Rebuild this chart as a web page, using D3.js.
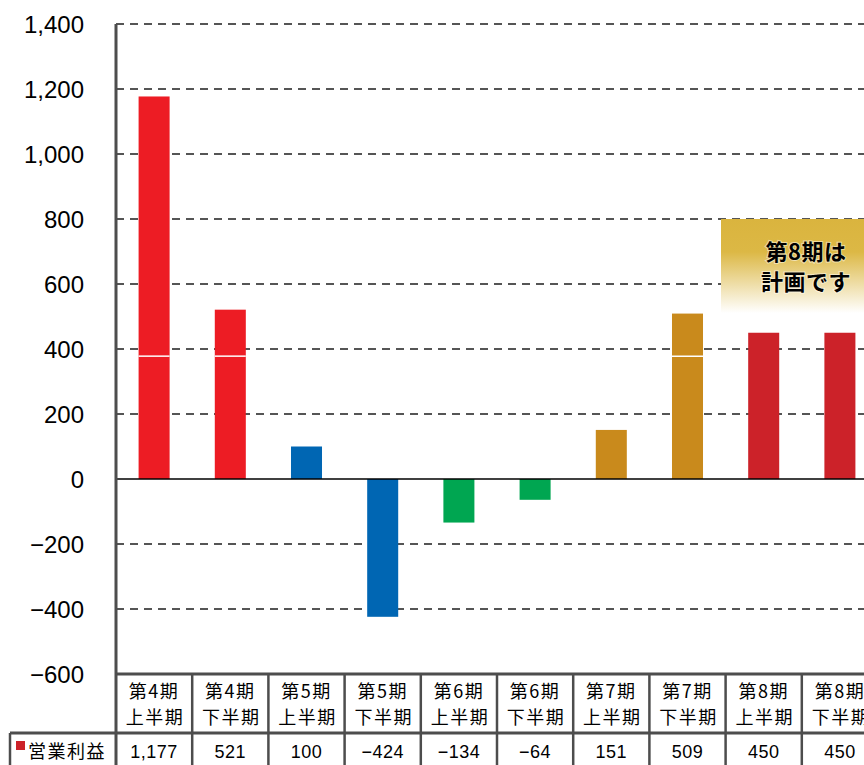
<!DOCTYPE html>
<html>
<head>
<meta charset="utf-8">
<script src="https://cdn.jsdelivr.net/npm/d3@7"></script>
<style>
  body { margin: 0; background: #fff; }
  svg { display: block; }
</style>
</head>
<body>
<div id="chart"></div>
<script>
// data
var periods = ["第4期", "第4期", "第5期", "第5期", "第6期", "第6期", "第7期", "第7期", "第8期", "第8期"];
var halves = ["上半期", "下半期", "上半期", "下半期", "上半期", "下半期", "上半期", "下半期", "上半期", "下半期"];
var profits = [1177, 521, 100, -424, -134, -64, 151, 509, 450, 450];
var profitLabels = ["1,177", "521", "100", "−424", "−134", "−64", "151", "509", "450", "450"];
var barColors = ["#ed1c24", "#ed1c24", "#0066b3", "#0066b3", "#00a651", "#00a651", "#c98a1c", "#c98a1c", "#cc2229", "#cc2229"];
var splitAt = [378, 378, null, null, null, null, null, 378, null, null]; // white seam seen inside some bars
var yTicks = [-600, -400, -200, 0, 200, 400, 600, 800, 1000, 1200, 1400];
var seriesName = "営業利益";
var noteLines = ["第8期は", "計画です"];

var W = 864, H = 765;
var plotLeft = 116, plotTop = 24, axisBottom = 674;
var step = 76.2;

var svg = d3.select("#chart").append("svg")
  .attr("width", W).attr("height", H);

var cats = d3.range(profits.length);

// bars sit in a padded band, table cells use the same band without padding
var x = d3.scaleBand().domain(cats)
  .range([plotLeft, plotLeft + step * cats.length])
  .paddingInner(0.593).paddingOuter(0.2965);
var xCell = d3.scaleBand().domain(cats)
  .range([plotLeft, plotLeft + step * cats.length]);

var y = d3.scaleLinear().domain([-600, 1400]).range([axisBottom, plotTop]);

// gridlines
svg.append("g").selectAll("line")
  .data(yTicks.filter(function (d) { return d !== 0 && d !== -600; }))
  .join("line")
  .attr("x1", plotLeft).attr("x2", W)
  .attr("y1", function (d) { return y(d); })
  .attr("y2", function (d) { return y(d); })
  .attr("stroke", "#555").attr("stroke-width", 2)
  .attr("stroke-dasharray", "8,6");

// y labels
svg.append("g").selectAll("text")
  .data(yTicks).join("text")
  .attr("x", 84)
  .attr("y", function (d) { return y(d); })
  .attr("dy", "0.36em")
  .attr("text-anchor", "end")
  .attr("font-family", "'Liberation Sans', Arial, sans-serif")
  .attr("font-size", 24)
  .attr("fill", "#000")
  .text(function (d) { return d3.format(",")(d).replace("-", "−"); });

// callout box
var defs = svg.append("defs");
var grad = defs.append("linearGradient").attr("id", "noteGrad")
  .attr("x1", 0).attr("y1", 0).attr("x2", 0).attr("y2", 1);
grad.append("stop").attr("offset", "0%").attr("stop-color", "#dab43e");
grad.append("stop").attr("offset", "35%").attr("stop-color", "#dcb845");
grad.append("stop").attr("offset", "100%").attr("stop-color", "#ffffff");

svg.append("rect")
  .attr("x", 721).attr("y", 219)
  .attr("width", W - 721).attr("height", 94)
  .attr("fill", "url(#noteGrad)");

svg.append("g").selectAll("text")
  .data(noteLines).join("text")
  .attr("x", 806)
  .attr("y", function (d, i) { return 252 + i * 30; })
  .attr("dy", "0.36em")
  .attr("text-anchor", "middle")
  .attr("font-family", "'Noto Sans CJK JP', sans-serif")
  .attr("font-weight", "bold")
  .attr("font-size", 22)
  .attr("letter-spacing", 0.5)
  .attr("fill", "#000")
  .attr("stroke", "rgba(255,255,255,0.5)").attr("stroke-width", 2)
  .attr("paint-order", "stroke")
  .text(function (d) { return d; });

// bars
svg.append("g").selectAll("rect")
  .data(profits).join("rect")
  .attr("x", function (d, i) { return x(i); })
  .attr("width", x.bandwidth())
  .attr("y", function (d) { return y(Math.max(0, d)); })
  .attr("height", function (d) { return Math.abs(y(d) - y(0)); })
  .attr("fill", function (d, i) { return barColors[i]; });

svg.append("g").selectAll("line")
  .data(cats.filter(function (i) { return splitAt[i] != null; }))
  .join("line")
  .attr("x1", function (i) { return x(i); })
  .attr("x2", function (i) { return x(i) + x.bandwidth(); })
  .attr("y1", function (i) { return y(splitAt[i]); })
  .attr("y2", function (i) { return y(splitAt[i]); })
  .attr("stroke", "#fff").attr("stroke-width", 1.5);

// zero line
svg.append("line")
  .attr("x1", plotLeft).attr("x2", W)
  .attr("y1", y(0)).attr("y2", y(0))
  .attr("stroke", "#000").attr("stroke-width", 1.5);

// table
var row1 = axisBottom, row2 = 733;
var lineColor = "#4d4d4d";
var tbl = svg.append("g");

tbl.append("line").attr("x1", plotLeft).attr("x2", W)
  .attr("y1", row1).attr("y2", row1)
  .attr("stroke", lineColor).attr("stroke-width", 3);
tbl.append("line").attr("x1", 10).attr("x2", W)
  .attr("y1", row2).attr("y2", row2)
  .attr("stroke", lineColor).attr("stroke-width", 3);
tbl.selectAll(".vline")
  .data(cats.slice(1)).join("line")
  .attr("class", "vline")
  .attr("x1", function (i) { return xCell(i); })
  .attr("x2", function (i) { return xCell(i); })
  .attr("y1", row1).attr("y2", H)
  .attr("stroke", lineColor).attr("stroke-width", 2.5);
tbl.append("line").attr("x1", 10).attr("x2", 10)
  .attr("y1", row2).attr("y2", H)
  .attr("stroke", lineColor).attr("stroke-width", 2.5);

// y axis line
svg.append("line")
  .attr("x1", plotLeft).attr("x2", plotLeft)
  .attr("y1", plotTop).attr("y2", H)
  .attr("stroke", lineColor).attr("stroke-width", 3);

var cjk = "'Noto Sans CJK JP', sans-serif";

tbl.selectAll(".hdr1")
  .data(periods).join("text")
  .attr("class", "hdr1")
  .attr("x", function (d, i) { return xCell(i) + xCell.bandwidth() / 2; })
  .attr("y", 692).attr("dy", "0.36em")
  .attr("text-anchor", "middle")
  .attr("font-family", cjk).attr("font-size", 18)
  .attr("letter-spacing", 1.5)
  .text(function (d) { return d; });

tbl.selectAll(".hdr2")
  .data(halves).join("text")
  .attr("class", "hdr2")
  .attr("x", function (d, i) { return xCell(i) + xCell.bandwidth() / 2 + 1; })
  .attr("y", 718).attr("dy", "0.36em")
  .attr("text-anchor", "middle")
  .attr("font-family", cjk).attr("font-size", 18)
  .attr("letter-spacing", 1.5)
  .text(function (d) { return d; });

tbl.selectAll(".val")
  .data(profitLabels).join("text")
  .attr("class", "val")
  .attr("x", function (d, i) { return xCell(i) + xCell.bandwidth() / 2; })
  .attr("y", 752).attr("dy", "0.36em")
  .attr("text-anchor", "middle")
  .attr("font-family", "'Liberation Sans', Arial, sans-serif").attr("font-size", 18)
  .attr("letter-spacing", 0.5)
  .text(function (d) { return d; });

// legend cell
tbl.append("rect")
  .attr("x", 16).attr("y", 741)
  .attr("width", 9).attr("height", 9)
  .attr("fill", "#cc2229");
tbl.append("text")
  .attr("x", 28).attr("y", 752).attr("dy", "0.36em")
  .attr("font-family", cjk).attr("font-size", 18)
  .attr("letter-spacing", 1.5)
  .text(seriesName);
</script>
</body>
</html>
